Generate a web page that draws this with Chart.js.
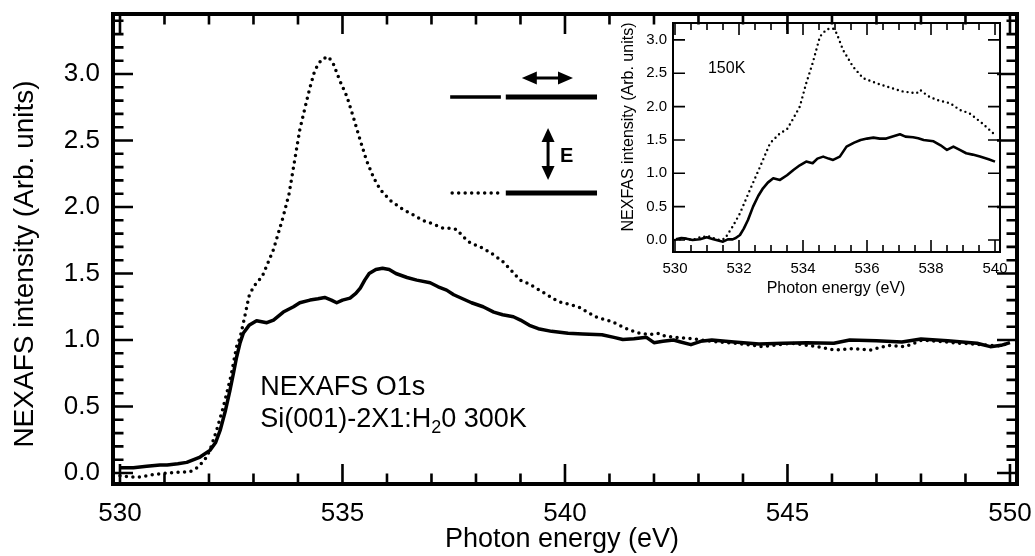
<!DOCTYPE html>
<html>
<head>
<meta charset="utf-8">
<script src="https://cdn.jsdelivr.net/npm/chart.js@4.4.1/dist/chart.umd.min.js"></script>
<style>
  html, body { margin: 0; padding: 0; background: #fff; }
  #wrap { position: relative; width: 1035px; height: 556px; }
  #wrap canvas { position: absolute; left: 0; top: 0; }
</style>
</head>
<body>
<div id="wrap">
  <canvas id="main" width="1035" height="556"></canvas>
  <canvas id="inset" width="1035" height="556"></canvas>
</div>
<script>
// 300K main panel
const energySolid300 = [530.0, 530.3, 530.6, 530.9, 531.06, 531.3, 531.5, 531.8, 532.02, 532.15, 532.25, 532.37, 532.47, 532.55, 532.62, 532.7, 532.77, 532.9, 533.07, 533.3, 533.45, 533.67, 533.9, 534.04, 534.27, 534.45, 534.6, 534.75, 534.87, 535.0, 535.17, 535.3, 535.4, 535.5, 535.6, 535.75, 535.9, 536.05, 536.2, 536.45, 536.67, 536.97, 537.15, 537.34, 537.5, 537.7, 537.9, 538.16, 538.4, 538.6, 538.84, 539.0, 539.2, 539.4, 539.7, 540.07, 540.4, 540.83, 541.1, 541.3, 541.55, 541.83, 542.0, 542.2, 542.44, 542.6, 542.83, 543.05, 543.3, 543.8, 544.36, 544.9, 545.43, 546.04, 546.4, 547.0, 547.57, 548.0, 548.6, 549.26, 549.56, 549.8, 550.0];
const solid300 = [0.04, 0.04, 0.05, 0.06, 0.06, 0.07, 0.08, 0.12, 0.17, 0.23, 0.32, 0.47, 0.62, 0.75, 0.87, 0.98, 1.05, 1.11, 1.145, 1.13, 1.15, 1.21, 1.25, 1.28, 1.30, 1.31, 1.32, 1.30, 1.28, 1.30, 1.315, 1.35, 1.39, 1.45, 1.50, 1.53, 1.54, 1.53, 1.50, 1.47, 1.45, 1.43, 1.40, 1.375, 1.34, 1.31, 1.28, 1.25, 1.21, 1.19, 1.175, 1.15, 1.11, 1.085, 1.065, 1.05, 1.045, 1.04, 1.02, 1.004, 1.01, 1.02, 0.98, 0.99, 1.0, 0.985, 0.965, 0.99, 1.0, 0.985, 0.97, 0.975, 0.98, 0.975, 1.0, 0.995, 0.985, 1.007, 0.995, 0.975, 0.95, 0.96, 0.98];

const energyDotted300 = [530.0, 530.2, 530.45, 530.7, 531.06, 531.3, 531.57, 531.7, 531.8, 531.95, 532.05, 532.17, 532.3, 532.4, 532.5, 532.62, 532.7, 532.8, 532.9, 533.0, 533.2, 533.45, 533.67, 533.8, 533.9, 534.04, 534.16, 534.27, 534.38, 534.53, 534.68, 534.79, 534.94, 535.1, 535.24, 535.4, 535.54, 535.7, 535.85, 536.07, 536.37, 536.6, 536.8, 537.05, 537.27, 537.45, 537.57, 537.7, 537.87, 538.16, 538.4, 538.6, 538.8, 538.99, 539.2, 539.5, 539.84, 540.3, 540.68, 541.06, 541.45, 541.68, 541.9, 542.1, 542.25, 542.5, 542.83, 543.44, 544.0, 544.43, 544.8, 545.12, 545.66, 546.04, 546.5, 546.88, 547.26, 547.65, 548.03, 548.4, 548.87, 549.2, 549.56, 549.8, 550.0];
const dotted300 = [-0.02, -0.03, -0.03, -0.015, 0.0, 0.005, 0.01, 0.03, 0.06, 0.12, 0.2, 0.32, 0.47, 0.60, 0.74, 0.95, 1.02, 1.17, 1.33, 1.40, 1.48, 1.68, 1.93, 2.1, 2.3, 2.58, 2.75, 2.90, 3.03, 3.11, 3.13, 3.08, 2.95, 2.83, 2.68, 2.50, 2.35, 2.22, 2.13, 2.05, 1.98, 1.94, 1.90, 1.87, 1.84, 1.84, 1.83, 1.78, 1.73, 1.69, 1.64, 1.59, 1.52, 1.45, 1.42, 1.36, 1.29, 1.25, 1.175, 1.137, 1.075, 1.05, 1.04, 1.05, 1.03, 1.02, 1.01, 0.985, 0.97, 0.95, 0.965, 0.975, 0.95, 0.925, 0.935, 0.925, 0.96, 0.95, 1.0, 0.99, 0.975, 0.97, 0.96, 0.955, 0.98];

const xTicks300 = [530, 535, 540, 545, 550];
const yTicks300 = [0, 0.5, 1, 1.5, 2, 2.5, 3];

// 150K inset
const energySolid150 = [530.03, 530.2, 530.36, 530.55, 530.78, 530.99, 531.2, 531.5, 531.65, 531.8, 531.9, 532.03, 532.15, 532.28, 532.44, 532.6, 532.75, 532.9, 533.07, 533.28, 533.5, 533.7, 533.9, 534.1, 534.3, 534.45, 534.63, 534.8, 534.94, 535.15, 535.36, 535.6, 535.8, 536.0, 536.2, 536.4, 536.6, 536.8, 537.03, 537.2, 537.44, 537.6, 537.77, 538.08, 538.3, 538.5, 538.7, 538.9, 539.1, 539.3, 539.53, 539.8, 540.0];
const solid150 = [0.01, 0.03, 0.02, 0.0, 0.01, 0.04, 0.01, -0.025, 0.01, 0.01, 0.03, 0.075, 0.17, 0.30, 0.50, 0.66, 0.775, 0.86, 0.925, 0.90, 0.97, 1.05, 1.12, 1.175, 1.15, 1.22, 1.25, 1.22, 1.20, 1.25, 1.40, 1.46, 1.50, 1.52, 1.535, 1.52, 1.52, 1.55, 1.585, 1.55, 1.54, 1.525, 1.50, 1.48, 1.42, 1.35, 1.40, 1.35, 1.30, 1.28, 1.25, 1.21, 1.175];

const energyDotted150 = [530.0, 530.3, 530.55, 530.78, 531.03, 531.2, 531.4, 531.56, 531.8, 532.03, 532.34, 532.66, 532.97, 533.28, 533.5, 533.7, 533.9, 534.1, 534.3, 534.53, 534.74, 534.94, 535.05, 535.25, 535.56, 535.88, 536.3, 536.72, 537.13, 537.55, 537.66, 537.9, 538.18, 538.6, 538.9, 539.2, 539.6, 540.0];
const dotted150 = [0.0, 0.02, 0.0, 0.04, 0.06, 0.03, 0.0, 0.02, 0.20, 0.40, 0.75, 1.10, 1.45, 1.60, 1.66, 1.825, 2.0, 2.35, 2.65, 3.05, 3.16, 3.17, 3.10, 2.85, 2.60, 2.425, 2.35, 2.285, 2.225, 2.20, 2.25, 2.16, 2.10, 2.05, 1.95, 1.90, 1.75, 1.575];

const xTicks150 = [530, 532, 534, 536, 538, 540];
const yTicks150 = [0, 0.5, 1, 1.5, 2, 2.5, 3];

const FONT = '"Liberation Sans", Arial, sans-serif';
Chart.defaults.color = '#000';
Chart.defaults.font.family = FONT;

function pairs(xs, ys) {
    return xs.map((x, i) => ({ x: x, y: ys[i] }));
}

function steps(from, to, step) {
    const out = [];
    for (let v = from; v <= to + 1e-9; v += step) {
        out.push(Math.round(v * 1000) / 1000);
    }
    return out;
}

// inward ticks on all four sides plus the frame
const frameTicks = {
    id: 'frameTicks',
    afterDatasetsDraw(chart, args, opts) {
        const { ctx, chartArea: a, scales: { x, y } } = chart;
        ctx.save();
        ctx.strokeStyle = '#000';
        ctx.lineWidth = opts.tickWidth;
        ctx.beginPath();
        const xTick = (v, len) => {
            const px = x.getPixelForValue(v);
            ctx.moveTo(px, a.bottom); ctx.lineTo(px, a.bottom - len);
            ctx.moveTo(px, a.top); ctx.lineTo(px, a.top + len);
        };
        const yTick = (v, len) => {
            const py = y.getPixelForValue(v);
            ctx.moveTo(a.left, py); ctx.lineTo(a.left + len, py);
            ctx.moveTo(a.right, py); ctx.lineTo(a.right - len, py);
        };
        opts.xMinor.forEach(v => xTick(v, opts.minorLen));
        opts.xMajor.forEach(v => xTick(v, opts.majorLen));
        opts.yMinor.forEach(v => yTick(v, opts.minorLen));
        opts.yMajor.forEach(v => yTick(v, opts.yMajorLen || opts.majorLen));
        ctx.stroke();
        ctx.lineWidth = opts.frameWidth;
        ctx.strokeRect(a.left, a.top, a.right - a.left, a.bottom - a.top);
        ctx.restore();
    }
};

function arrowHead(ctx, tipX, tipY, dirX, dirY, len, half) {
    const bx = tipX - dirX * len, by = tipY - dirY * len;
    ctx.beginPath();
    ctx.moveTo(tipX, tipY);
    ctx.lineTo(bx - dirY * half, by + dirX * half);
    ctx.lineTo(bx + dirY * half, by - dirX * half);
    ctx.closePath();
    ctx.fill();
}

const mainText = {
    id: 'mainText',
    afterDraw(chart) {
        const { ctx, chartArea: a, scales: { x, y } } = chart;
        ctx.save();
        ctx.fillStyle = '#000';
        ctx.strokeStyle = '#000';

        ctx.textAlign = 'center';
        ctx.textBaseline = 'alphabetic';
        ctx.font = '27px ' + FONT;
        ctx.fillText('Photon energy (eV)', (a.left + a.right) / 2 - 3, 547);

        ctx.save();
        ctx.translate(33, (a.top + a.bottom) / 2 + 15);
        ctx.rotate(-Math.PI / 2);
        ctx.font = '28px ' + FONT;
        ctx.fillText('NEXAFS intensity (Arb. units)', 0, 0);
        ctx.restore();

        // sample note
        ctx.textAlign = 'left';
        ctx.font = '27px ' + FONT;
        const tx = x.getPixelForValue(533.15);
        ctx.fillText('NEXAFS O1s', tx, y.getPixelForValue(0.586));
        const by = y.getPixelForValue(0.346);
        let part = 'Si(001)-2X1:H';
        ctx.fillText(part, tx, by);
        let cx = tx + ctx.measureText(part).width;
        ctx.font = '18px ' + FONT;
        ctx.fillText('2', cx, by + 6);
        cx += ctx.measureText('2').width;
        ctx.font = '27px ' + FONT;
        ctx.fillText('0 300K', cx, by);

        // polarisation key
        const yTop = y.getPixelForValue(2.827);
        const yBot = y.getPixelForValue(2.105);
        const k0 = x.getPixelForValue(537.42), k1 = x.getPixelForValue(538.56);
        const b0 = x.getPixelForValue(538.67), b1 = x.getPixelForValue(540.72);
        ctx.lineWidth = 3.5;
        ctx.lineCap = 'butt';
        ctx.beginPath(); ctx.moveTo(k0, yTop); ctx.lineTo(k1, yTop); ctx.stroke();
        ctx.lineWidth = 5;
        ctx.beginPath(); ctx.moveTo(b0, yTop); ctx.lineTo(b1, yTop); ctx.stroke();
        ctx.beginPath(); ctx.moveTo(b0, yBot); ctx.lineTo(b1, yBot); ctx.stroke();
        ctx.save();
        ctx.lineWidth = 3.5;
        ctx.lineCap = 'round';
        ctx.setLineDash([0, 6.5]);
        ctx.beginPath(); ctx.moveTo(k0 + 2, yBot); ctx.lineTo(k1, yBot); ctx.stroke();
        ctx.restore();

        // E arrows
        ctx.lineWidth = 3;
        const ha = y.getPixelForValue(2.97);
        const h0 = x.getPixelForValue(539.03), h1 = x.getPixelForValue(540.18);
        ctx.beginPath(); ctx.moveTo(h0 + 8, ha); ctx.lineTo(h1 - 8, ha); ctx.stroke();
        arrowHead(ctx, h0, ha, -1, 0, 15, 6.5);
        arrowHead(ctx, h1, ha, 1, 0, 15, 6.5);
        const vx = x.getPixelForValue(539.62);
        const v0 = y.getPixelForValue(2.594), v1 = y.getPixelForValue(2.203);
        ctx.beginPath(); ctx.moveTo(vx, v0 + 8); ctx.lineTo(vx, v1 - 8); ctx.stroke();
        arrowHead(ctx, vx, v0, 0, -1, 14, 6.5);
        arrowHead(ctx, vx, v1, 0, 1, 14, 6.5);
        ctx.font = 'bold 20px ' + FONT;
        ctx.fillText('E', x.getPixelForValue(539.89), y.getPixelForValue(2.34));
        ctx.restore();
    }
};

const insetText = {
    id: 'insetText',
    afterDraw(chart) {
        const { ctx, chartArea: a, scales: { x, y } } = chart;
        ctx.save();
        ctx.fillStyle = '#000';
        ctx.font = '16px ' + FONT;
        ctx.textAlign = 'center';
        ctx.textBaseline = 'alphabetic';
        ctx.fillText('Photon energy (eV)', 836, 293);
        ctx.save();
        ctx.translate(633, 127);
        ctx.rotate(-Math.PI / 2);
        ctx.fillText('NEXFAS intensity (Arb. units)', 0, 0);
        ctx.restore();
        ctx.textAlign = 'left';
        ctx.fillText('150K', x.getPixelForValue(531.03), y.getPixelForValue(2.51));
        ctx.restore();
    }
};

function lineSet(xs, ys, dotted, width, gap) {
    return {
        data: pairs(xs, ys),
        borderColor: '#000',
        borderWidth: width,
        borderDash: dotted ? [0, gap] : [],
        borderCapStyle: dotted ? 'round' : 'butt',
        borderJoinStyle: 'round',
        pointRadius: 0,
        tension: 0,
        fill: false
    };
}

function axis(min, max, tickValues, fontSize, padding, fmt, fitSize, isX) {
    return {
        type: 'linear',
        min: min,
        max: max,
        afterBuildTicks: s => { s.ticks = tickValues.map(v => ({ value: v })); },
        afterFit: s => {
            // keep the plot box where the figure has it, not where label overhang wants it
            if (isX) { s.height = fitSize; s.paddingLeft = 0; s.paddingRight = 0; }
            else { s.width = fitSize; s.paddingTop = 0; s.paddingBottom = 0; }
        },
        grid: { display: false, drawTicks: false },
        border: { display: false },
        ticks: {
            autoSkip: false,
            maxRotation: 0,
            padding: padding,
            color: '#000',
            font: { size: fontSize, family: FONT },
            callback: fmt
        }
    };
}

new Chart(document.getElementById('main'), {
    type: 'line',
    data: {
        datasets: [
            lineSet(energySolid300, solid300, false, 3.5, 0),
            lineSet(energyDotted300, dotted300, true, 3.5, 6.5)
        ]
    },
    options: {
        responsive: false,
        animation: false,
        devicePixelRatio: 1,
        layout: { padding: { top: 14, right: 18, left: 0, bottom: 0 } },
        plugins: {
            legend: { display: false },
            tooltip: { enabled: false },
            frameTicks: {
                xMajor: xTicks300, xMinor: steps(530, 550, 1),
                yMajor: yTicks300, yMinor: steps(0, 3.4, 0.1),
                majorLen: 20, minorLen: 10.5, tickWidth: 2.6, frameWidth: 4
            }
        },
        scales: {
            x: axis(529.843, 550.158, xTicks300, 26, 14, v => String(v), 72, true),
            y: axis(-0.0827, 3.451, yTicks300, 26, 13, v => v.toFixed(1), 113, false)
        }
    },
    plugins: [frameTicks, mainText]
});

new Chart(document.getElementById('inset'), {
    type: 'line',
    data: {
        datasets: [
            lineSet(energySolid150, solid150, false, 2.6, 0),
            lineSet(energyDotted150, dotted150, true, 2.4, 5)
        ]
    },
    options: {
        responsive: false,
        animation: false,
        devicePixelRatio: 1,
        layout: { padding: { top: 23, right: 35, left: 0, bottom: 0 } },
        plugins: {
            legend: { display: false },
            tooltip: { enabled: false },
            frameTicks: {
                xMajor: xTicks150, xMinor: steps(530, 540, 0.5),
                yMajor: yTicks150, yMinor: [],
                majorLen: 12, minorLen: 7, yMajorLen: 12, tickWidth: 1.6, frameWidth: 2
            }
        },
        scales: {
            x: axis(529.9375, 540.156, xTicks150, 15, 8, v => String(v), 304, true),
            y: axis(-0.18, 3.253, yTicks150, 15, 6, v => v.toFixed(1), 673, false)
        }
    },
    plugins: [frameTicks, insetText]
});
</script>
</body>
</html>
